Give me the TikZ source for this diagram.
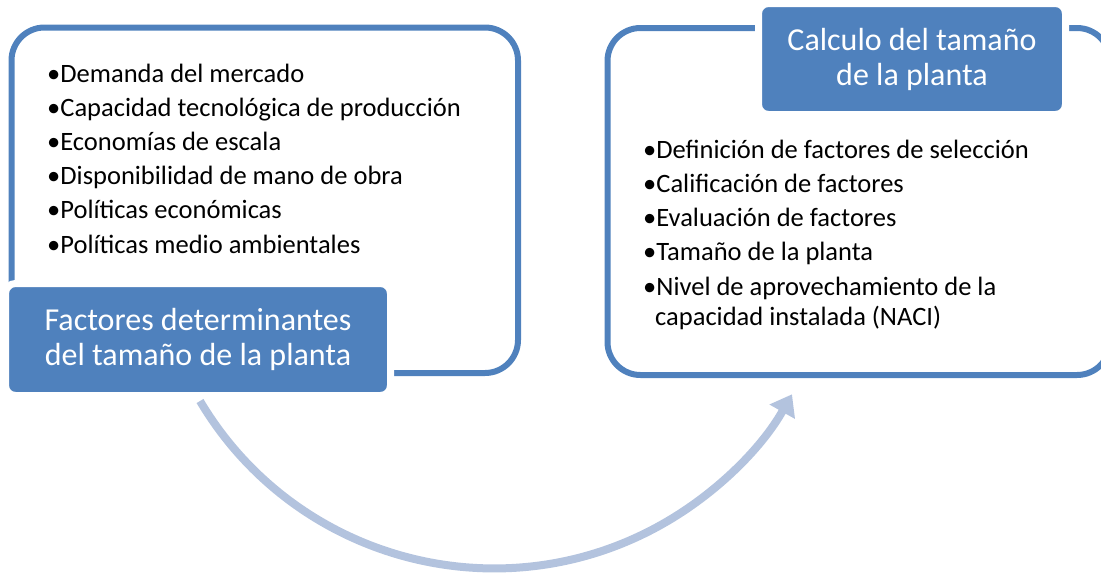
\documentclass[tikz,border=0pt]{standalone}
\usepackage{fontspec}
\setmainfont{Carlito}
\usetikzlibrary{positioning,arrows.meta}
\definecolor{accblue}{RGB}{79,129,189}
\definecolor{arrblue}{RGB}{179,195,222}

\begin{document}
\begin{tikzpicture}[x=1pt,y=-1pt]
    \tikzset{
      frame/.style={draw=accblue,line width=6pt,rounded corners=33pt,inner sep=0pt},
      lbl/.style={fill=accblue,draw=white,line width=7pt,rounded corners=10pt,
                  text=white,align=center,inner sep=0pt,
                  font=\fontsize{32}{35}\selectfont},
      itm/.style={anchor=base west,inner sep=0pt,font=\fontsize{26.5}{30}\selectfont},
      ar/.style={-{Triangle[length=20pt,width=28pt]},line width=8pt,draw=arrblue}}
    \useasboundingbox (0,0) rectangle (1101,574);
    % outline boxes
    \node[frame,minimum width=506.5pt,minimum height=345.5pt] (fl) at (264.75,200.25) {};
    \node[frame,minimum width=502.5pt,minimum height=347pt] (fr) at (858.75,201.5) {};
    % title boxes
    \node[lbl,minimum width=385pt,minimum height=112pt] (tl) at (198,339.5) {Factores determinantes\\del tamaño de la planta};
    \node[lbl,minimum width=307pt,minimum height=111pt] (tr) at (912,59) {Calculo del tamaño\\de la planta};
    % bullet lists
    \foreach \t [count=\i] in {Demanda del mercado,Capacidad tecnológica de producción,Economías de escala,Disponibilidad de mano de obra,Políticas económicas,Políticas medio ambientales}
      \node[itm] (l\i) at (47,82+34.2*\i-34.2) {•\t};
    \foreach \t [count=\i] in {Definición de factores de selección,Calificación de factores,Evaluación de factores,Tamaño de la planta,Nivel de aprovechamiento de la}
      \node[itm] (r\i) at (643,158+34.25*\i-34.25) {•\t};
    \node[itm] (r6) at (655,325) {capacidad instalada (NACI)};
    % curved arrow
    \coordinate (as) at (200,401);
    \draw[ar] (as) arc[start angle=149.3,end angle=29.4,radius=342];
  \end{tikzpicture}
\end{document}
